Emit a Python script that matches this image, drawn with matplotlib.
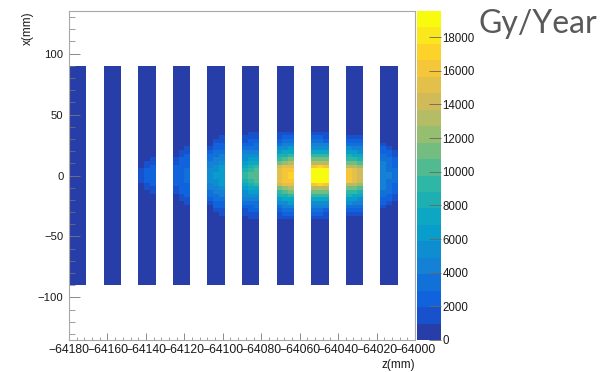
import numpy as np
import matplotlib
matplotlib.use('Agg')
import matplotlib.pyplot as plt
from matplotlib.colors import ListedColormap, BoundaryNorm
from matplotlib.ticker import MultipleLocator

plt.rcParams['font.family'] = ['Liberation Sans', 'DejaVu Sans']

# ── DATA ──────────────────────────────────────────────
# histogram binning (mm): 3 mm bins in z and in x
z_edges = np.arange(-64180, -63999, 3)
x_edges = np.arange(-90, 91, 3)

# left edge of each absorber bar (mm), every bar is 3 z-bins wide
bar_start = [-64180, -64162, -64144, -64126, -64108,
             -64090, -64072, -64054, -64036, -64018]

background = 450      # Gy/Year away from the hot spot
z_max = 19550         # top of the colour scale

# dose half-profiles (Gy/Year),
# rows at |x| = 1.5, 4.5, 7.5 ... mm, one list per z-bin (left, middle, right)
bar1 = [[], [], []]
bar2 = [[], [], []]
bar3 = [[1500, 1300],
        [2100, 2000, 1600, 1200],
        [2300, 2200, 2100, 1800, 1300]]
bar4 = [[2300, 2200, 2000, 1600, 1200],
        [2800, 2700, 2500, 2300, 2000, 1700, 1200],
        [3100, 3000, 2900, 2700, 2400, 2100, 1700, 1200]]
bar5 = [[5300, 5100, 4700, 4200, 3700, 3200, 2600, 1900],
        [6000, 5800, 5300, 4800, 4200, 3700, 3200, 2700, 2100, 1500],
        [6600, 6400, 5900, 5300, 4600, 4000, 3400, 2900, 2300, 1700, 1100]]
bar6 = [[9000, 8600, 7700, 6700, 5800, 4900, 4100, 3300, 2600, 1900, 1300],
        [9800, 9300, 8300, 7200, 6200, 5300, 4400, 3600, 2800, 2100, 1500, 1100],
        [10300, 9800, 8800, 7600, 6600, 5600, 4700, 3800, 3000, 2300, 1600, 1100]]
bar7 = [[15500, 15000, 13800, 11500, 9600, 8000, 6400, 5000, 3800, 2800, 1800, 1100],
        [16300, 15800, 14900, 12300, 10300, 8600, 7000, 5600, 4300, 3200, 2200, 1300],
        [16800, 16300, 15200, 12800, 10800, 9000, 7300, 5900, 4500, 3400, 2400, 1500]]
bar8 = [[19000, 18700, 16500, 13300, 11000, 8900, 7100, 5500, 4100, 3000, 2000, 1200],
        [19500, 18900, 16800, 13500, 11200, 9000, 7200, 5600, 4200, 3100, 2100, 1300],
        [19200, 18700, 16400, 13200, 10900, 8800, 7000, 5400, 4000, 2900, 1900, 1100]]
bar9 = [[16200, 15700, 13500, 11500, 9700, 8000, 6500, 5100, 3800, 2700, 1700],
        [15400, 14900, 13000, 11000, 9200, 7600, 6100, 4700, 3500, 2500, 1500],
        [14300, 13800, 12300, 10300, 8600, 7000, 5600, 4300, 3100, 2200, 1200]]
bar10 = [[4700, 4600, 4400, 4100, 3700, 3200, 2600, 2000, 1300],
         [4000, 3900, 3700, 3400, 3000, 2600, 2100, 1500],
         [3200, 3100, 2900, 2600, 2200, 1700, 1200]]

bars = [bar1, bar2, bar3, bar4, bar5, bar6, bar7, bar8, bar9, bar10]
cbar_ticks = list(range(0, 18001, 2000))

# fill the 2D histogram, empty bins stay NaN (not drawn)
x_centres = 0.5 * (x_edges[:-1] + x_edges[1:])
dose = np.full((len(x_edges) - 1, len(z_edges) - 1), np.nan)
for start, bar in zip(bar_start, bars):
    col0 = int(round((start - z_edges[0]) / 3))
    for c, half in enumerate(bar):
        for row, xc in enumerate(x_centres):
            k = int(abs(xc) // 3)
            dose[row, col0 + c] = half[k] if k < len(half) else background

# ── ROOT kBird palette, 20 contours ───────────────────
stops = [0.0, 0.125, 0.25, 0.375, 0.5, 0.625, 0.75, 0.875, 1.0]
red = [0.2082, 0.0592, 0.0780, 0.0232, 0.1802, 0.5301, 0.8186, 0.9956, 0.9764]
green = [0.1664, 0.3599, 0.5041, 0.6419, 0.7178, 0.7492, 0.7328, 0.7862, 0.9832]
blue = [0.5293, 0.8684, 0.8385, 0.7914, 0.6425, 0.4662, 0.3499, 0.1968, 0.0539]
f = np.linspace(0, 1, 255)
table = np.column_stack([np.interp(f, stops, red),
                         np.interp(f, stops, green),
                         np.interp(f, stops, blue)])
n_cont = 20
colours = [table[int((i + 0.99) * 255 / n_cont)] for i in range(n_cont)]
cmap = ListedColormap(colours)
levels = np.linspace(0, z_max, n_cont + 1)
norm = BoundaryNorm(levels, n_cont)

# ── FIGURE ────────────────────────────────────────────
fig = plt.figure(figsize=(6.09, 3.72), dpi=100)
ax = fig.add_axes([69 / 609, 32 / 372, 346 / 609, 329 / 372])
cax = fig.add_axes([417 / 609, 32 / 372, 24 / 609, 329 / 372])

mesh = ax.pcolormesh(z_edges, x_edges, dose, cmap=cmap, norm=norm,
                     shading='flat', edgecolors='none')
ax.set_xlim(-64180, -64000)
ax.set_ylim(-135, 135)
ax.xaxis.set_major_locator(MultipleLocator(20))
ax.xaxis.set_minor_locator(MultipleLocator(4))
ax.yaxis.set_major_locator(MultipleLocator(50))
ax.yaxis.set_minor_locator(MultipleLocator(10))
ax.set_yticks([-100, -50, 0, 50, 100])
ax.tick_params(axis='x', which='major', direction='in', length=5, width=0.6,
               color='#777777', labelsize=8.8, pad=3, labelcolor='#1a1a1a')
ax.tick_params(axis='x', which='minor', direction='in', length=2.5, width=0.5,
               color='#777777')
ax.tick_params(axis='y', which='major', direction='in', length=8, width=0.6,
               color='#777777', labelsize=8.1, pad=4, labelcolor='#1a1a1a')
ax.tick_params(axis='y', which='minor', direction='in', length=4, width=0.5,
               color='#777777')
for sp in ax.spines.values():
    sp.set_color('#a8a8a8')
    sp.set_linewidth(0.8)

cb = fig.colorbar(mesh, cax=cax, ticks=cbar_ticks)
cb.outline.set_visible(False)
cax.tick_params(direction='in', length=8.5, width=0.6, color='#666666',
                labelsize=8.3, pad=1, labelcolor='#1a1a1a')
cax.minorticks_off()

fig.text(415 / 609, 1 - 365 / 372, 'z(mm)', ha='right', va='center',
         fontsize=8.5, color='#1a1a1a')
fig.text(28 / 609, 1 - 11 / 372, 'x(mm)', ha='center', va='top',
         rotation=90, fontsize=8.5, color='#1a1a1a')
fig.text(479 / 609, 1 - 33 / 372, 'Gy/Year', ha='left', va='baseline',
         fontsize=23, color='#595959', family=['Lato', 'DejaVu Sans'])

plt.savefig('out.png', dpi=100)
